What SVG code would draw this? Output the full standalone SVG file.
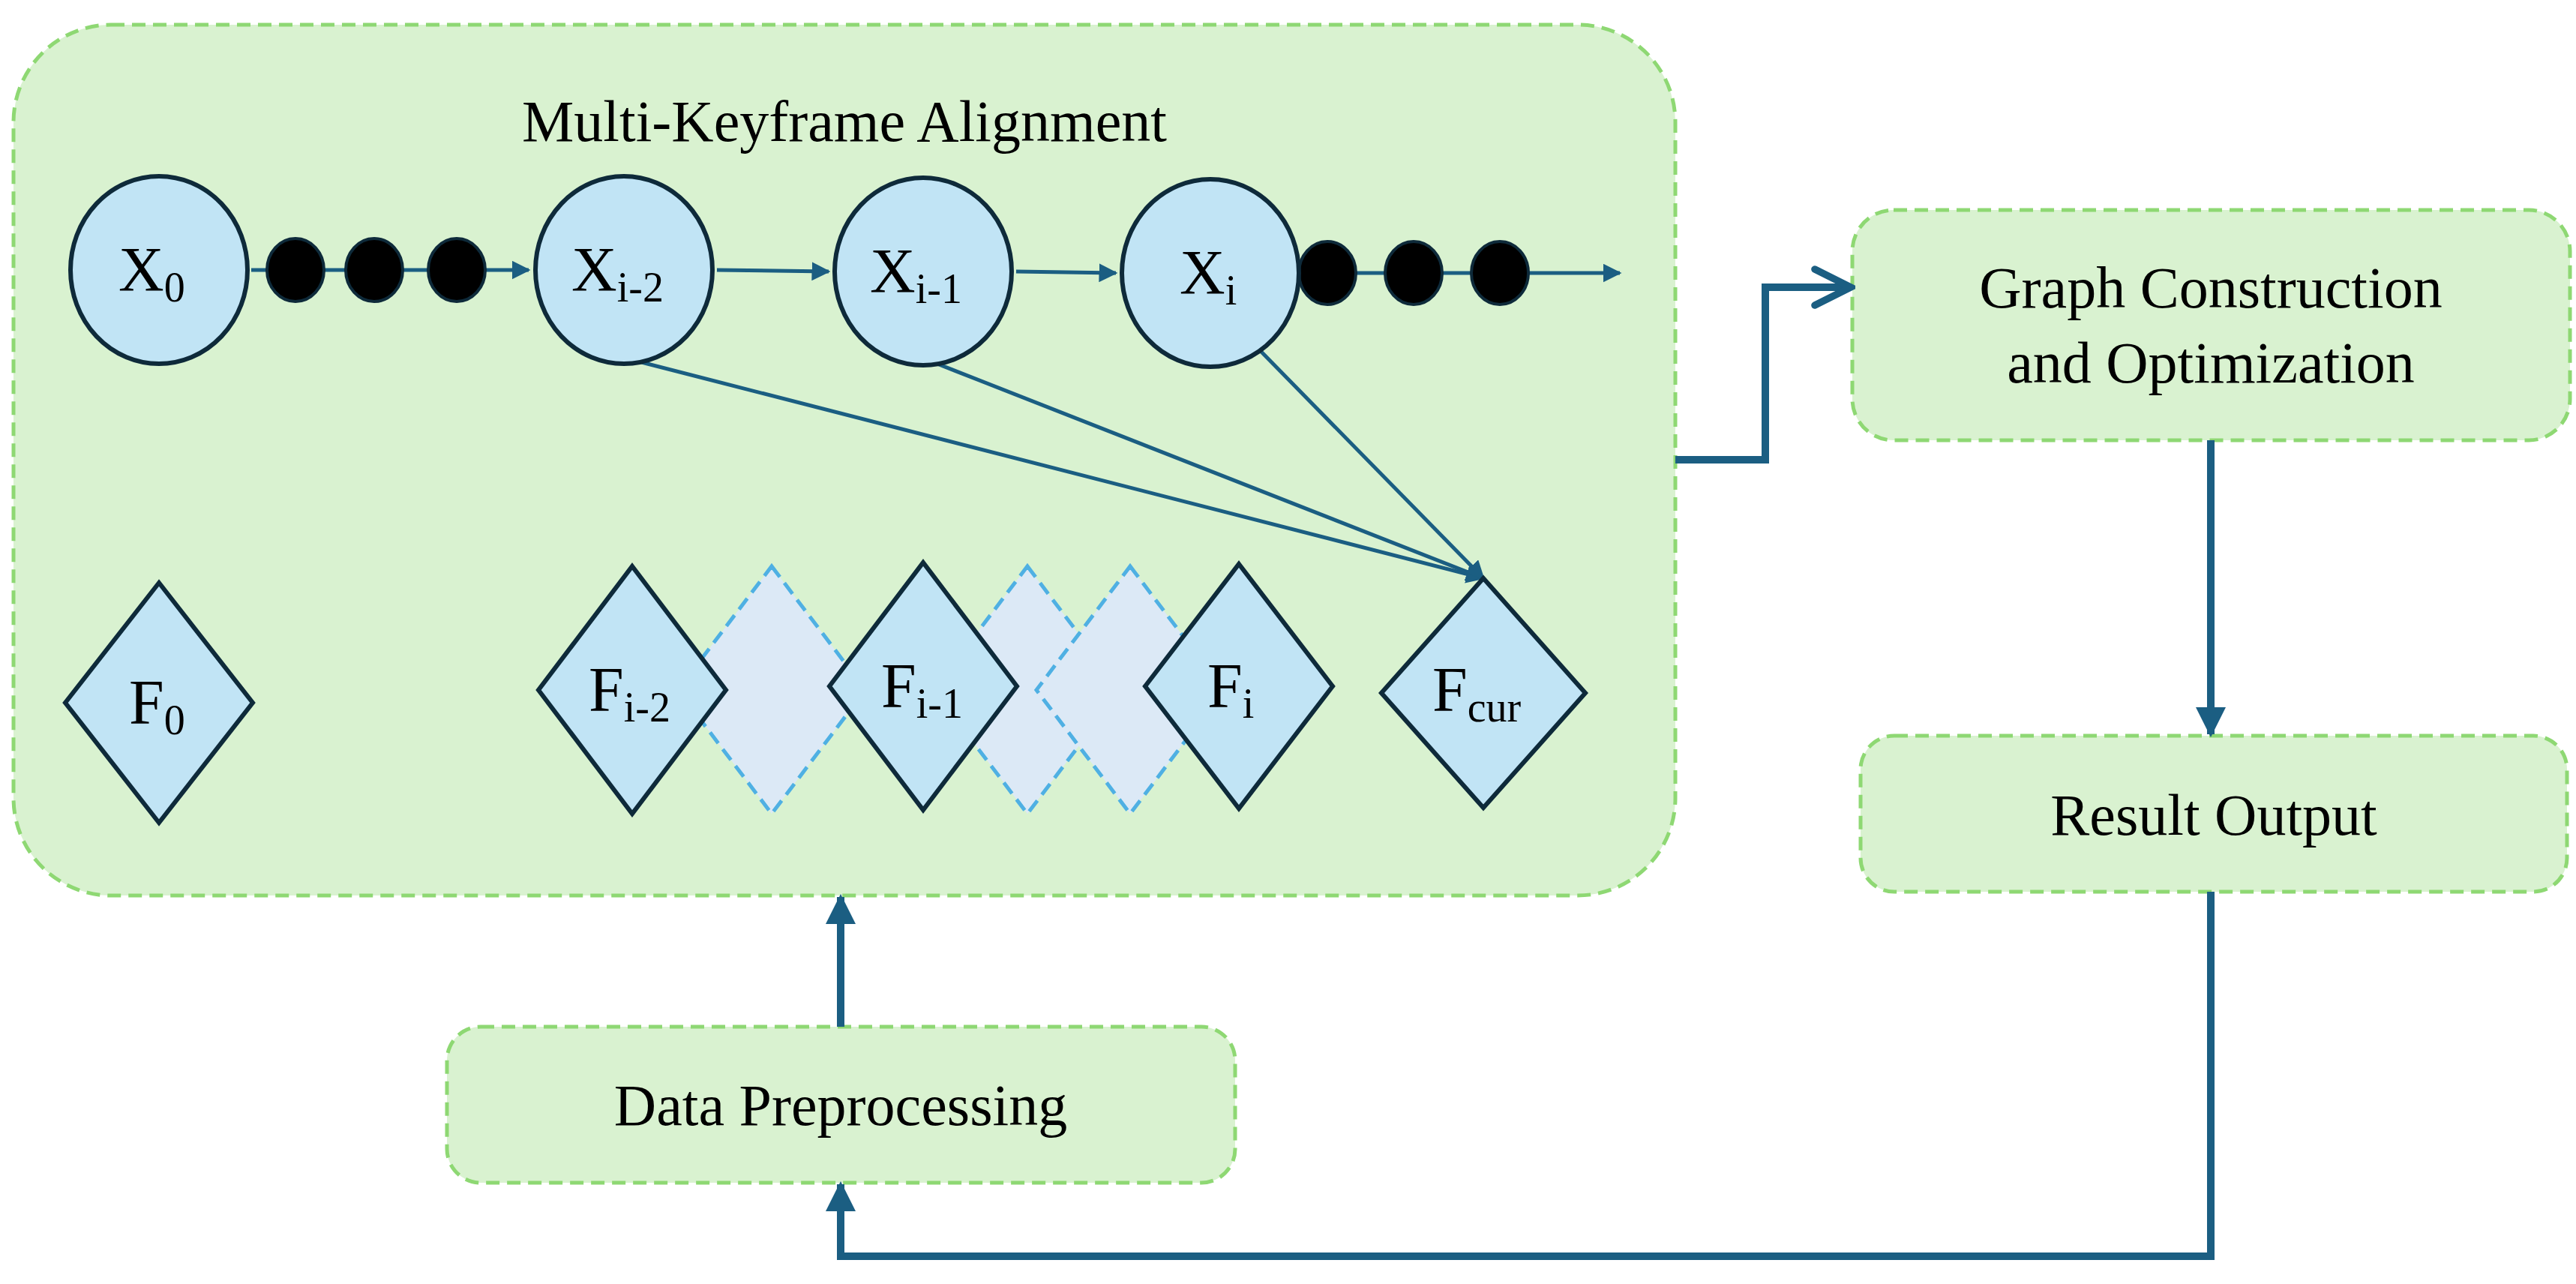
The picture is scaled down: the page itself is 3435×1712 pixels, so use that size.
<svg xmlns="http://www.w3.org/2000/svg" width="3435" height="1712" viewBox="0 0 3435 1712">
<style>
.box{fill:#d9f2d0;stroke:#8ed873;stroke-width:5;stroke-dasharray:18 10}
.nd{fill:#c1e4f5;stroke:#0e2a3a;stroke-width:6}
.dd{fill:#dce9f6;stroke:#4fb0e3;stroke-width:5;stroke-dasharray:18 10}
.dot{fill:#000;stroke:#0e2a3a;stroke-width:4}
text{font-family:"Liberation Serif",serif;fill:#000}
.t{font-size:78px;text-anchor:middle}
.lb{font-size:84px}
.sub{font-size:56px}
.thin{stroke:#1b5e82;stroke-width:5;fill:none}
.thick{stroke:#1b5e82;stroke-width:10;fill:none}
</style>
<defs>
<marker id="a" viewBox="0 0 10 10" refX="9" refY="5" markerWidth="5" markerHeight="5" orient="auto" markerUnits="strokeWidth"><path d="M0,0L10,5L0,10z" fill="#1b5e82"/></marker>
<marker id="b" viewBox="0 0 10 10" refX="9" refY="5" markerWidth="4" markerHeight="4" orient="auto" markerUnits="strokeWidth"><path d="M0,0L10,5L0,10z" fill="#1b5e82"/></marker>
<marker id="o" viewBox="0 0 10 10" refX="9" refY="5" markerWidth="6" markerHeight="6" orient="auto" markerUnits="strokeWidth"><path d="M1,1L9,5L1,9" fill="none" stroke="#1b5e82" stroke-width="1.6" stroke-linecap="round"/></marker>
</defs>
<g id="mka"><rect class="box" x="18" y="33" width="2216" height="1161" rx="130"/>
<text class="t" x="1126" y="188">Multi-Keyframe Alignment</text></g>
<g id="gco"><rect class="box" x="2470" y="280" width="957" height="307" rx="55"/>
<text class="t" x="2948" y="410">Graph Construction</text><text class="t" x="2948" y="510">and Optimization</text></g>
<g id="ro"><rect class="box" x="2481" y="981" width="942" height="208" rx="45"/>
<text class="t" x="2952" y="1113">Result Output</text></g>
<g id="dp"><rect class="box" x="596" y="1369" width="1051" height="208" rx="45"/>
<text class="t" x="1121" y="1500">Data Preprocessing</text></g>
<g id="connectors">
<line class="thin" x1="335" y1="360" x2="705" y2="360" marker-end="url(#a)"/>
<line class="thin" x1="956" y1="360" x2="1105" y2="362" marker-end="url(#a)"/>
<line class="thin" x1="1355" y1="362" x2="1488" y2="364" marker-end="url(#a)"/>
<line class="thin" x1="1738" y1="364" x2="2160" y2="364" marker-end="url(#a)"/>
<line class="thin" x1="832" y1="477" x2="1978" y2="771" marker-end="url(#a)"/>
<line class="thin" x1="1237" y1="480" x2="1978" y2="771" marker-end="url(#a)"/>
<line class="thin" x1="1675" y1="462" x2="1978" y2="771" marker-end="url(#a)"/>
<polyline class="thick" points="2234,613 2354,613 2354,383 2468,383" marker-end="url(#o)"/>
<line class="thick" x1="2948" y1="587" x2="2948" y2="979" marker-end="url(#b)"/>
<polyline class="thick" points="2948,1189 2948,1675 1121,1675 1121,1579" marker-end="url(#b)"/>
<line class="thick" x1="1121" y1="1369" x2="1121" y2="1196" marker-end="url(#b)"/>
</g>
<g id="dots">
<ellipse class="dot" cx="394" cy="360" rx="38" ry="42"/><ellipse class="dot" cx="499" cy="360" rx="38" ry="42"/><ellipse class="dot" cx="609" cy="360" rx="38" ry="42"/>
<ellipse class="dot" cx="1770" cy="364" rx="38" ry="42"/><ellipse class="dot" cx="1885" cy="364" rx="38" ry="42"/><ellipse class="dot" cx="2000" cy="364" rx="38" ry="42"/>
</g>
<g id="x0"><ellipse class="nd" cx="212" cy="360" rx="118" ry="125"/><text class="lb" x="158" y="388">X<tspan class="sub" dy="14">0</tspan></text></g>
<g id="xi2"><ellipse class="nd" cx="832" cy="360" rx="118" ry="125"/><text class="lb" x="762" y="388">X<tspan class="sub" dy="14">i-2</tspan></text></g>
<g id="xi1"><ellipse class="nd" cx="1231" cy="362" rx="118" ry="125"/><text class="lb" x="1160" y="390">X<tspan class="sub" dy="14">i-1</tspan></text></g>
<g id="xi"><ellipse class="nd" cx="1614" cy="364" rx="118" ry="125"/><text class="lb" x="1573" y="392">X<tspan class="sub" dy="14">i</tspan></text></g>
<g id="dd1"><polygon class="dd" points="1029,755 1154,920 1029,1085 904,920"/></g>
<g id="dd2"><polygon class="dd" points="1370,755 1495,920 1370,1085 1245,920"/></g>
<g id="dd3"><polygon class="dd" points="1507,755 1632,920 1507,1085 1382,920"/></g>
<g id="f0"><polygon class="nd" points="212,777 337,937 212,1097 87,937"/><text class="lb" x="172" y="965">F<tspan class="sub" dy="14">0</tspan></text></g>
<g id="fi2"><polygon class="nd" points="843,755 968,920 843,1085 718,920"/><text class="lb" x="785" y="948">F<tspan class="sub" dy="14">i-2</tspan></text></g>
<g id="fi1"><polygon class="nd" points="1231,750 1356,915 1231,1080 1106,915"/><text class="lb" x="1175" y="943">F<tspan class="sub" dy="14">i-1</tspan></text></g>
<g id="fi"><polygon class="nd" points="1652,752 1777,915 1652,1078 1527,915"/><text class="lb" x="1610" y="943">F<tspan class="sub" dy="14">i</tspan></text></g>
<g id="fcur"><polygon class="nd" points="1978,771 2114,924 1978,1077 1842,924"/><text class="lb" x="1910" y="948">F<tspan class="sub" dy="14">cur</tspan></text></g>
</svg>
